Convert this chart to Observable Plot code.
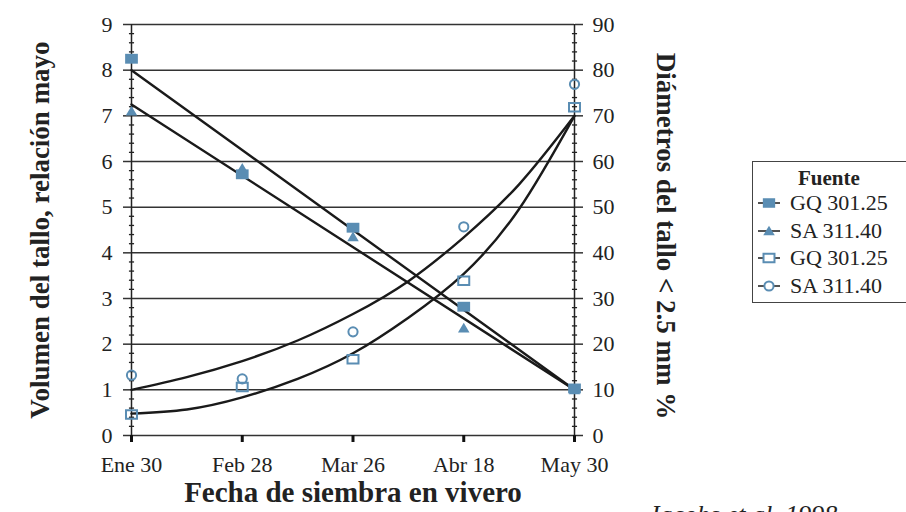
<!DOCTYPE html>
<html><head><meta charset="utf-8">
<script src="https://cdn.jsdelivr.net/npm/d3@7"></script>
<script src="https://cdn.jsdelivr.net/npm/@observablehq/plot@0.6"></script>
<style>
body{margin:0;background:#fff;}
#wrap{position:relative;width:906px;height:512px;overflow:hidden;font-family:"Liberation Serif",serif;color:#222;}
#legend{position:absolute;left:752px;top:161px;width:170px;height:142px;border:1.5px solid #444;box-sizing:border-box;background:#fff;font-family:"Liberation Serif",serif;}
#legend .ttl{position:absolute;left:45px;top:4px;font-weight:bold;font-size:21px;font-family:"Liberation Serif",serif;}
#legend .row{position:absolute;left:3px;height:26px;display:flex;align-items:center;font-size:22px;white-space:nowrap;font-family:"Liberation Serif",serif;}
#legend .row svg{margin-right:8px;}
#caption{position:absolute;left:648px;top:501px;font-style:italic;font-size:26px;line-height:28px;white-space:nowrap;font-family:"Liberation Serif",serif;}
</style></head><body><div id="wrap"></div>
<script>
// ---- data ----
const fechas = ["Ene 30", "Feb 28", "Mar 26", "Abr 18", "May 30"];
const posiciones = [0, 1, 2, 3, 4];
const volGQ = [8.25, 5.72, 4.55, 2.82, 1.03];      // eje izquierdo
const volSA = [7.10, 5.85, 4.35, 2.35, 1.00];      // eje izquierdo
const diamGQ = [4.6, 10.6, 16.7, 33.9, 71.9];      // eje derecho (%)
const diamSA = [13.2, 12.4, 22.7, 45.7, 76.9];     // eje derecho (%)
const tendPos = [0, 4];
const tendVolGQ = [8.0, 1.0];
const tendVolSA = [7.25, 1.0];
const curvaPos = [0, 0.5, 1, 1.5, 2, 2.5, 3, 3.5, 4];
const tendDiamGQ = [4.8, 5.7, 8.35, 12.4, 18.0, 25.8, 35.4, 49.6, 70];
const tendDiamSA = [10, 12.8, 16.3, 20.8, 26.6, 33.8, 43.4, 55, 70];
const yTicks = [0, 1, 2, 3, 4, 5, 6, 7, 8, 9];
const yMinor = d3.range(0, 45).map(k => k / 5).filter(v => v % 1 !== 0);
const legendTitle = "Fuente";
const legendLabels = ["GQ 301.25", "SA 311.40", "GQ 301.25", "SA 311.40"];
const titleX = "Fecha de siembra en vivero";
const titleYL = "Volumen del tallo, relación mayo";
const titleYR = "Diámetros del tallo < 2.5 mm %";
const caption = "Jacobs et al. 1998";

// ---- styles ----
const C = "#5a8db3";
const INK = "#222";
const rectSym = {draw(ctx, size){ const s = Math.sqrt(size); ctx.rect(-s*0.62, -s*0.48, s*1.24, s*0.96); }};
const triSym = {draw(ctx, size){ const s = Math.sqrt(size); ctx.moveTo(0, -s*0.52); ctx.lineTo(s*0.56, s*0.42); ctx.lineTo(-s*0.56, s*0.42); ctx.closePath(); }};
const hTick = {draw(ctx, size){ const s = Math.sqrt(size); ctx.moveTo(-s/2, 0); ctx.lineTo(s/2, 0); }};

const ser = (arr, scale) => arr.map((v, k) => ({x: posiciones[k], y: v / scale}));
const ln = (xs, arr, scale) => arr.map((v, k) => ({x: xs[k], y: v / scale}));

const chart = Plot.plot({
  width: 906, height: 512,
  marginLeft: 131, marginRight: 332, marginTop: 24, marginBottom: 77,
  style: {fontFamily: "'Liberation Serif', serif", fontSize: "22px", color: INK, background: "transparent"},
  x: {domain: [0, 4]},
  y: {domain: [0, 9]},
  marks: [
    Plot.gridY(yTicks, {stroke: "#333", strokeOpacity: 1, strokeWidth: 1.5}),
    Plot.ruleX([0, 4], {stroke: INK, strokeWidth: 1.5}),
    Plot.dot(yMinor, {x: 0, y: d => d, symbol: hTick, r: 2.9, stroke: INK, strokeWidth: 1.3}),
    Plot.dot(yMinor, {x: 4, y: d => d, symbol: hTick, r: 2.9, stroke: INK, strokeWidth: 1.3}),
    Plot.axisY(yTicks, {anchor: "left", tickSize: 8, tickPadding: 11, stroke: "#333", strokeWidth: 1.5, label: null, fontSize: 22}),
    Plot.axisY(yTicks, {anchor: "right", tickSize: 8, tickPadding: 10, stroke: "#333", strokeWidth: 1.5, tickFormat: d => d * 10, label: null, fontSize: 22}),
    Plot.axisX(posiciones, {tickSize: 7, tickPadding: 14, stroke: "#111", strokeWidth: 3, tickFormat: i => fechas[i], label: null, fontSize: 22}),
    Plot.line(ln(tendPos, tendVolGQ, 1), {x: "x", y: "y", stroke: "#1a1a1a", strokeWidth: 2.4}),
    Plot.line(ln(tendPos, tendVolSA, 1), {x: "x", y: "y", stroke: "#1a1a1a", strokeWidth: 2.4}),
    Plot.line(ln(curvaPos, tendDiamGQ, 10), {x: "x", y: "y", curve: "natural", stroke: "#1a1a1a", strokeWidth: 2.4}),
    Plot.line(ln(curvaPos, tendDiamSA, 10), {x: "x", y: "y", curve: "natural", stroke: "#1a1a1a", strokeWidth: 2.4}),
    Plot.dot(ser(volSA, 1), {x: "x", y: "y", symbol: triSym, r: 5.8, fill: C, stroke: "none"}),
    Plot.dot(ser(volGQ, 1), {x: "x", y: "y", symbol: rectSym, r: 5.8, fill: C, stroke: "none"}),
    Plot.dot(ser(diamGQ, 10), {x: "x", y: "y", symbol: rectSym, r: 5.0, fill: "none", stroke: C, strokeWidth: 2}),
    Plot.dot(ser(diamSA, 10), {x: "x", y: "y", symbol: "circle", r: 4.6, fill: "none", stroke: C, strokeWidth: 2}),
    Plot.text([titleYL], {frameAnchor: "left", textAnchor: "middle", dx: -91, dy: 0, rotate: -90, fontSize: 27, fontWeight: "bold", fill: INK}),
    Plot.text([titleYR], {frameAnchor: "right", textAnchor: "middle", dx: 91, dy: 6, rotate: 90, fontSize: 27, fontWeight: "bold", fill: INK}),
    Plot.text([titleX], {frameAnchor: "bottom", dy: 66, fontSize: 29, fontWeight: "bold", fill: INK})
  ]
});
const wrap = document.getElementById("wrap");
wrap.appendChild(chart);

// ---- legend ----
const leg = d3.select(wrap).append("div").attr("id", "legend");
leg.append("div").attr("class", "ttl").text(legendTitle);
const legSyms = [
  {sym: rectSym, fill: C, stroke: "none"},
  {sym: triSym, fill: C, stroke: "none"},
  {sym: rectSym, fill: "none", stroke: C},
  {sym: d3.symbolCircle, fill: "none", stroke: C}
];
const legSizes = [5.6, 5.8, 5.0, 4.6];
legendLabels.forEach((lab, k) => {
  const row = leg.append("div").attr("class", "row").style("top", (28 + k * 27.5) + "px");
  const s = row.append("svg").attr("width", 26).attr("height", 24);
  s.append("line").attr("x1", 2).attr("x2", 24).attr("y1", 12).attr("y2", 12).attr("stroke", "#1a1a1a").attr("stroke-width", 1.5);
  const r = legSizes[k];
  s.append("path").attr("transform", "translate(13,12)")
    .attr("d", d3.symbol(legSyms[k].sym, r * r * Math.PI)())
    .attr("fill", legSyms[k].fill === "none" ? "#fff" : legSyms[k].fill)
    .attr("stroke", legSyms[k].stroke).attr("stroke-width", 2);
  row.append("span").text(lab);
});
d3.select(wrap).append("div").attr("id", "caption").text(caption);
</script>
</body></html>
